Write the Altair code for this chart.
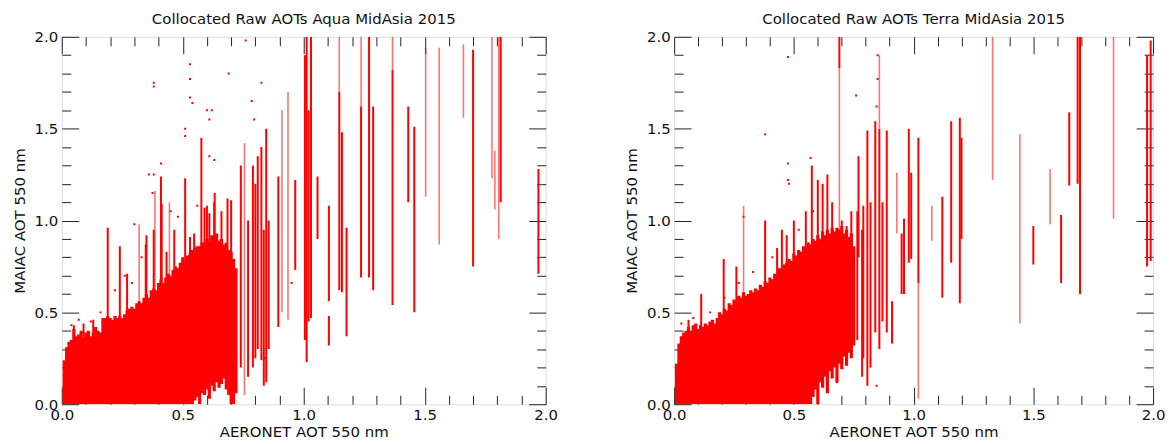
import altair as alt
import pandas as pd

# ---------------- Aqua (left panel) ----------------
aqua_core_x = [0.01, 0.02, 0.03, 0.04, 0.05, 0.06, 0.07, 0.08, 0.09, 0.10,
               0.11, 0.12, 0.13, 0.14, 0.15, 0.16, 0.17, 0.18, 0.19, 0.20,
               0.21, 0.22, 0.23, 0.24, 0.25, 0.26, 0.27, 0.28, 0.29, 0.30,
               0.31, 0.32, 0.33, 0.34, 0.35, 0.36, 0.37, 0.38, 0.39, 0.40,
               0.41, 0.42, 0.43, 0.44, 0.45, 0.46, 0.47, 0.48, 0.49, 0.50,
               0.51, 0.52, 0.53, 0.54, 0.55, 0.56, 0.57, 0.58, 0.59, 0.60,
               0.61, 0.62, 0.63, 0.64, 0.65, 0.66, 0.67, 0.68, 0.69, 0.70,
               0.71, 0.72]
aqua_core_hi = [0.24, 0.31, 0.34, 0.35, 0.41, 0.37, 0.38, 0.40, 0.36, 0.39,
                0.40, 0.37, 0.39, 0.42, 0.40, 0.39, 0.47, 0.47, 0.48, 0.47,
                0.46, 0.48, 0.47, 0.48, 0.47, 0.49, 0.51, 0.52, 0.53, 0.52,
                0.55, 0.56, 0.55, 0.58, 0.60, 0.58, 0.62, 0.63, 0.62, 0.66,
                0.68, 0.66, 0.69, 0.71, 0.70, 0.73, 0.75, 0.74, 0.77, 0.80,
                0.77, 0.81, 0.82, 0.84, 0.85, 0.86, 0.86, 0.88, 0.87, 0.90,
                0.89, 0.92, 0.91, 0.93, 0.89, 0.90, 0.87, 0.88, 0.84, 0.83,
                0.79, 0.74]
aqua_core_lo = [0.0, 0.0, 0.0, 0.0, 0.0, 0.0, 0.0, 0.0, 0.0, 0.0,
                0.0, 0.0, 0.0, 0.0, 0.0, 0.0, 0.0, 0.0, 0.0, 0.0,
                0.0, 0.0, 0.0, 0.0, 0.0, 0.0, 0.0, 0.0, 0.0, 0.0,
                0.0, 0.0, 0.0, 0.0, 0.0, 0.0, 0.0, 0.0, 0.0, 0.0,
                0.0, 0.0, 0.0, 0.0, 0.0, 0.0, 0.0, 0.0, 0.0, 0.0,
                0.0, 0.0, 0.0, 0.0, 0.02, 0.04, 0.0, 0.06, 0.05, 0.08,
                0.03, 0.10, 0.07, 0.12, 0.09, 0.11, 0.14, 0.08, 0.05, 0.0,
                0.0, 0.06]

aqua_spike_x = [0.05, 0.09, 0.13, 0.19, 0.24, 0.27, 0.347, 0.35, 0.38, 0.41,
                0.413, 0.433, 0.465, 0.51, 0.53, 0.547, 0.577, 0.59, 0.60, 0.61,
                0.63, 0.632, 0.66, 0.685, 0.70, 0.74, 0.77, 0.79, 0.80, 0.81,
                0.825, 0.835, 0.845, 0.855, 0.895, 0.965,
                1.005, 1.012, 1.02, 1.03, 1.057, 1.104, 1.104, 1.147, 1.158, 1.177,
                1.237, 1.27, 1.287, 1.367, 1.432, 1.457, 1.70, 1.814, 1.97]
aqua_spike_lo = [0.0, 0.0, 0.0, 0.0, 0.30, 0.30, 0.30, 0.40, 0.40, 0.50,
                 0.40, 0.40, 0.50, 0.60, 0.50, 0.50, 0.70, 0.60, 0.70, 0.60,
                 0.70, 0.60, 0.70, 0.70, 0.0, 0.20, 0.15, 0.20, 0.25, 0.30,
                 0.24, 0.10, 0.12, 0.30, 0.42, 0.73,
                 0.35, 0.23, 0.45, 0.47, 0.90, 0.56, 0.32, 0.62, 0.61, 0.37,
                 0.69, 0.69, 0.62, 0.54, 1.10, 0.50, 0.75, 1.10, 0.71]
aqua_spike_hi = [0.43, 0.44, 0.46, 0.96, 0.86, 0.71, 0.87, 0.92, 0.95, 1.24,
                 1.09, 0.83, 0.95, 1.23, 0.91, 0.93, 1.45, 1.07, 1.08, 1.04,
                 1.10, 1.15, 1.05, 1.12, 1.11, 1.30, 1.00, 1.30, 1.20, 1.35,
                 1.40, 0.95, 1.50, 1.00, 1.24, 1.22,
                 1.90, 2.0, 1.60, 2.0, 1.24, 1.08, 0.48, 1.70, 1.48, 0.96,
                 1.62, 2.0, 1.62, 1.82, 1.62, 1.51, 1.93, 2.0, 1.28]

aqua_light_x = [0.32, 0.385, 0.445, 0.755, 0.91, 0.935, 1.147, 1.237, 1.367, 1.504,
                1.56, 1.66, 1.778, 1.79, 1.806]
aqua_light_lo = [0.40, 0.50, 0.50, 0.05, 0.50, 0.46, 1.70, 1.62, 1.82, 1.13,
                 0.87, 1.56, 1.23, 1.06, 0.90]
aqua_light_hi = [0.98, 1.16, 1.10, 1.42, 1.60, 1.70, 2.0, 2.0, 2.0, 1.94,
                 1.94, 1.96, 2.0, 1.38, 2.0]

aqua_dot_x = [0.38, 0.38, 0.41, 0.53, 0.53, 0.53, 0.54, 0.51, 0.51, 0.60,
              0.62, 0.61, 0.69, 0.76, 0.825, 0.795, 0.785, 0.38, 0.36, 0.375,
              0.95, 0.84, 0.30, 0.61, 0.63, 0.04, 0.07, 0.12, 0.16, 0.22,
              0.26, 0.29, 0.33, 0.45, 0.48, 0.56]
aqua_dot_y = [1.73, 1.75, 1.31, 1.85, 1.77, 1.67, 1.64, 1.46, 1.50, 1.60,
              1.60, 1.55, 1.80, 1.98, 1.75, 1.55, 1.65, 1.25, 1.25, 1.15,
              0.66, 0.25, 0.98, 1.35, 1.33, 0.43, 0.46, 0.45, 0.50, 0.62,
              0.70, 0.66, 0.80, 1.05, 1.02, 1.08]

# ---------------- Terra (right panel) ----------------
terra_core_x = [0.01, 0.02, 0.03, 0.04, 0.05, 0.06, 0.07, 0.08, 0.09, 0.10,
                0.11, 0.12, 0.13, 0.14, 0.15, 0.16, 0.17, 0.18, 0.19, 0.20,
                0.21, 0.22, 0.23, 0.24, 0.25, 0.26, 0.27, 0.28, 0.29, 0.30,
                0.31, 0.32, 0.33, 0.34, 0.35, 0.36, 0.37, 0.38, 0.39, 0.40,
                0.41, 0.42, 0.43, 0.44, 0.45, 0.46, 0.47, 0.48, 0.49, 0.50,
                0.51, 0.52, 0.53, 0.54, 0.55, 0.56, 0.57, 0.58, 0.59, 0.60,
                0.61, 0.62, 0.63, 0.64, 0.65, 0.66, 0.67, 0.68, 0.69, 0.70,
                0.71, 0.72, 0.73, 0.74, 0.75]
terra_core_hi = [0.22, 0.33, 0.37, 0.39, 0.40, 0.42, 0.40, 0.43, 0.44, 0.41,
                 0.43, 0.42, 0.44, 0.43, 0.45, 0.46, 0.44, 0.47, 0.50, 0.49,
                 0.52, 0.51, 0.55, 0.54, 0.57, 0.56, 0.59, 0.58, 0.61, 0.59,
                 0.60, 0.62, 0.61, 0.63, 0.62, 0.65, 0.64, 0.67, 0.66, 0.69,
                 0.68, 0.71, 0.71, 0.74, 0.73, 0.76, 0.77, 0.79, 0.78, 0.82,
                 0.81, 0.84, 0.83, 0.86, 0.85, 0.88, 0.87, 0.90, 0.89, 0.92,
                 0.90, 0.94, 0.92, 0.95, 0.93, 0.96, 0.94, 0.96, 0.95, 0.97,
                 0.93, 0.95, 0.91, 0.93, 0.86]
terra_core_lo = [0.0, 0.0, 0.0, 0.0, 0.0, 0.0, 0.0, 0.0, 0.0, 0.0,
                 0.0, 0.0, 0.0, 0.0, 0.0, 0.0, 0.0, 0.0, 0.0, 0.0,
                 0.0, 0.0, 0.0, 0.0, 0.0, 0.0, 0.0, 0.0, 0.0, 0.0,
                 0.0, 0.0, 0.0, 0.0, 0.0, 0.0, 0.0, 0.0, 0.0, 0.0,
                 0.0, 0.0, 0.0, 0.0, 0.0, 0.0, 0.0, 0.0, 0.0, 0.0,
                 0.0, 0.0, 0.0, 0.0, 0.0, 0.0, 0.0, 0.04, 0.08, 0.0,
                 0.12, 0.09, 0.15, 0.06, 0.18, 0.14, 0.20, 0.12, 0.22, 0.19,
                 0.26, 0.21, 0.28, 0.25, 0.32]

terra_spike_x = [0.06, 0.113, 0.207, 0.26, 0.38, 0.43, 0.45, 0.47, 0.50, 0.55,
                 0.575, 0.60, 0.62, 0.64, 0.66, 0.69, 0.70, 0.72, 0.74, 0.765,
                 0.77, 0.785, 0.79, 0.807, 0.82, 0.84, 0.857, 0.87, 0.888, 0.91,
                 0.95, 0.96, 0.98, 0.99,
                 1.02, 1.12, 1.157, 1.193, 1.20, 1.50, 1.616, 1.65, 1.685, 1.695,
                 1.975, 1.99]
terra_spike_lo = [0.0, 0.30, 0.30, 0.40, 0.50, 0.50, 0.60, 0.50, 0.60, 0.60,
                  0.70, 0.70, 0.70, 0.70, 0.60, 1.83, 0.30, 0.30, 0.30, 0.35,
                  0.80, 0.15, 0.25, 0.10, 0.20, 0.39, 0.30, 0.45, 0.39, 0.33,
                  0.60, 0.60, 0.77, 0.79,
                  0.66, 0.58, 0.77, 0.55, 0.90, 0.76, 0.66, 1.19, 1.20, 0.60,
                  0.75, 0.78]
terra_spike_hi = [0.46, 0.60, 0.79, 0.75, 1.00, 0.85, 0.95, 0.92, 1.00, 1.05,
                  1.30, 1.22, 1.20, 1.25, 1.10, 2.0, 1.00, 0.97, 1.05, 1.05,
                  1.35, 0.95, 1.08, 1.49, 1.10, 1.54, 1.50, 1.10, 1.49, 0.56,
                  0.93, 1.01, 1.50, 1.26,
                  1.45, 1.13, 1.54, 1.56, 1.45, 0.97, 1.03, 1.59, 2.0, 2.0,
                  1.90, 1.98]

terra_light_x = [0.29, 0.69, 0.857, 0.93, 1.02, 1.076, 1.33, 1.444, 1.57, 1.835]
terra_light_lo = [0.40, 0.30, 1.50, 0.93, 0.03, 0.89, 1.22, 0.44, 0.98, 1.01]
terra_light_hi = [1.08, 1.83, 1.90, 1.26, 0.66, 1.08, 2.0, 1.47, 1.28, 2.0]

terra_dot_x = [0.38, 0.475, 0.475, 0.475, 0.48, 0.57, 0.76, 0.85, 0.845, 0.85,
               0.29, 0.68, 0.845, 0.50, 0.03, 0.08, 0.15, 0.21, 0.27, 0.33,
               0.41, 0.52, 0.58]
terra_dot_y = [1.47, 1.89, 1.31, 1.22, 1.20, 1.34, 1.68, 1.77, 1.62, 1.90,
               1.02, 0.12, 0.10, 0.02, 0.44, 0.47, 0.50, 0.58, 0.66, 0.72,
               0.80, 0.95, 1.05]

major_ticks = [0.0, 0.5, 1.0, 1.5, 2.0]
minor_ticks = [0.1, 0.2, 0.3, 0.4, 0.6, 0.7, 0.8, 0.9,
               1.1, 1.2, 1.3, 1.4, 1.6, 1.7, 1.8, 1.9]

RED = "#ff0000"
FONT = "DejaVu Sans"
MAJ = 17
MIN = 9


def scale():
    return alt.Scale(domain=[0, 2], nice=False, zero=False)


def major_axis(orient, labels, title):
    kw = dict(orient=orient, values=major_ticks, tickSize=MAJ, offset=-MAJ,
              domain=False, grid=False, tickColor="#222", tickWidth=1,
              labels=labels)
    if labels:
        kw.update(format=".1f", labelFontSize=15, labelFont=FONT,
                  labelColor="#111", labelFlush=False, labelOverlap=False,
                  labelPadding=4 if orient in ("left", "right") else 3)
    if title:
        kw.update(title=title, titleFont=FONT, titleFontSize=15,
                  titleFontWeight="normal", titleColor="#111",
                  titlePadding=7 if orient in ("left", "right") else 2)
    else:
        kw.update(title=None)
    return alt.Axis(**kw)


def minor_axis(orient):
    return alt.Axis(orient=orient, values=minor_ticks, tickSize=MIN, offset=-MIN,
                    domain=False, grid=False, tickColor="#222", tickWidth=1,
                    labels=False, title=None)


def panel(title, w, core_x, core_lo, core_hi, sx, slo, shi, lx, llo, lhi, dx, dy):
    core = pd.DataFrame({"x": core_x, "lo": core_lo, "hi": core_hi})
    spikes = pd.DataFrame({"x": sx, "lo": slo, "hi": shi})
    light = pd.DataFrame({"x": lx, "lo": llo, "hi": lhi})
    dots = pd.DataFrame({"x": dx, "y": dy})

    l1 = alt.Chart(core).mark_rule(color=RED, strokeWidth=3.2, clip=True).encode(
        x=alt.X("x:Q", scale=scale(), axis=major_axis("bottom", True, "AERONET AOT 550 nm")),
        y=alt.Y("lo:Q", scale=scale(), axis=major_axis("left", True, "MAIAC AOT 550 nm")),
        y2="hi:Q",
    )
    l2 = alt.Chart(spikes).mark_rule(color=RED, strokeWidth=2, clip=True).encode(
        x=alt.X("x:Q", scale=scale(), axis=major_axis("top", False, None)),
        y=alt.Y("lo:Q", scale=scale(), axis=major_axis("right", False, None)),
        y2="hi:Q",
    )
    l3 = alt.Chart(light).mark_rule(color=RED, strokeWidth=1.6, opacity=0.55, clip=True).encode(
        x=alt.X("x:Q", scale=scale(), axis=minor_axis("bottom")),
        y=alt.Y("lo:Q", scale=scale(), axis=minor_axis("left")),
        y2="hi:Q",
    )
    l4 = alt.Chart(dots).mark_square(color=RED, size=4, opacity=1, clip=True).encode(
        x=alt.X("x:Q", scale=scale(), axis=minor_axis("top")),
        y=alt.Y("y:Q", scale=scale(), axis=minor_axis("right")),
    )
    return alt.layer(l1, l2, l3, l4).resolve_axis(x="independent", y="independent").properties(
        width=w, height=369,
        title=alt.TitleParams(title, font=FONT, fontSize=15, fontWeight="normal",
                              color="#111", offset=3),
    )


left = panel("Collocated Raw AOTs Aqua MidAsia 2015", 486,
             aqua_core_x, aqua_core_lo, aqua_core_hi,
             aqua_spike_x, aqua_spike_lo, aqua_spike_hi,
             aqua_light_x, aqua_light_lo, aqua_light_hi,
             aqua_dot_x, aqua_dot_y)
right = panel("Collocated Raw AOTs Terra MidAsia 2015", 481,
              terra_core_x, terra_core_lo, terra_core_hi,
              terra_spike_x, terra_spike_lo, terra_spike_hi,
              terra_light_x, terra_light_lo, terra_light_hi,
              terra_dot_x, terra_dot_y)

chart = alt.hconcat(left, right, spacing=65).properties(
    padding={"left": 3, "top": 2, "right": 2, "bottom": 0}
).configure_view(stroke="#222", strokeWidth=1.2).configure(background="white")

chart.save("out.html", embed_options={"renderer": "svg", "actions": False})
